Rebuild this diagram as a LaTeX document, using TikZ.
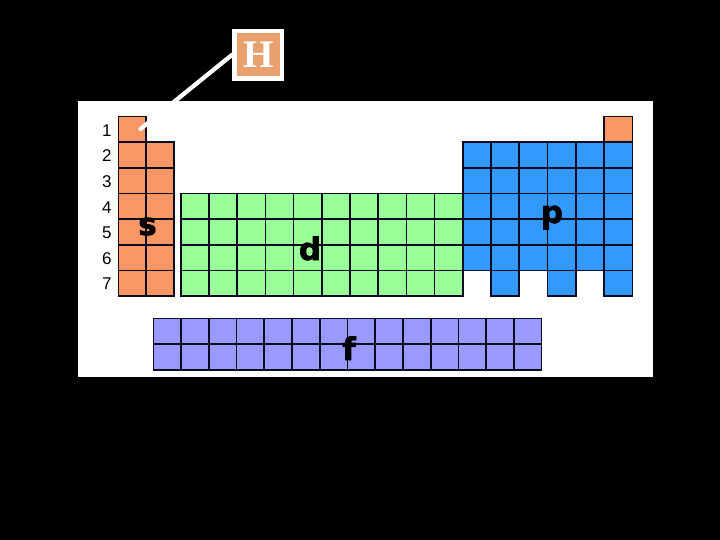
\documentclass[tikz,border=0pt]{standalone}
\usepackage{fontspec}
\setmainfont{Liberation Sans}
\newfontfamily\blockfont{DejaVu Sans}[BoldFeatures={FakeBold=2}]
\newfontfamily\hfont{Liberation Serif}
\definecolor{sorange}{HTML}{FA9865}
\definecolor{horange}{HTML}{E8A06E}
\definecolor{dgreen}{HTML}{99FF99}
\definecolor{pblue}{HTML}{3399FF}
\definecolor{fpurple}{HTML}{9999FF}
\definecolor{gridline}{HTML}{0A0A20}
\tikzset{
  cellbase/.style={draw=gridline, line width=1.6pt},
  scell/.style={cellbase, fill=sorange},
  dcell/.style={cellbase, fill=dgreen},
  pcell/.style={cellbase, fill=pblue},
  fcell/.style={cellbase, fill=fpurple},
  blocklabel/.style={anchor=base, inner sep=0pt, font=\blockfont\bfseries\fontsize{31}{31}\selectfont},
  rownum/.style={anchor=base, inner sep=0pt, font=\fontsize{17}{17}\selectfont},
}
\begin{document}
\begin{tikzpicture}[x=1pt, y=-1pt]
\useasboundingbox (0,0) rectangle (720,540);
\fill[black] (0,0) rectangle (720,540);
\fill[white] (78,101) rectangle (653,377);
% s block
\draw[scell] (118.3,116.7) rectangle ++(27.8,25.6);
\foreach \r in {0,...,5} \foreach \c in {0,1}
  \draw[scell] ({118.3+\c*27.8},{142.3+\r*25.6}) rectangle ++(27.8,25.6);
% d block
\foreach \r in {0,...,3} \foreach \c in {0,...,9}
  \draw[dcell] ({180.7+\c*28.2},{193.5+\r*25.6}) rectangle ++(28.2,25.6);
% p block
\foreach \r in {0,...,4} \foreach \c in {0,...,5}
  \draw[pcell] ({462.7+\c*28.27},{142.3+\r*25.6}) rectangle ++(28.27,25.6);
\foreach \c in {1,3,5}
  \draw[pcell] ({462.7+\c*28.27},270.3) rectangle ++(28.27,25.6);
\draw[scell] ({462.7+5*28.27},116.7) rectangle ++(28.27,25.6);
% f block
\foreach \r in {0,1} \foreach \c in {0,...,13}
  \draw[fcell] ({153.3+\c*27.74},{318.3+\r*25.85}) rectangle ++(27.74,25.85);
% row numbers
\foreach \r in {1,...,7}
  \node[rownum] (row\r) at (106.8,{116.7+(\r-0.5)*25.6+6.8}) {\r};
% block labels
\node[blocklabel] (slab) at (147.5,235) {s};
\node[blocklabel] (dlab) at (310,260) {d};
\node[blocklabel] (plab) at (552,223) {p};
\node[blocklabel] (flab) at (349,360) {f};
% H callout
\node[draw=white, line width=4.5pt, fill=horange, minimum size=47.5pt, inner sep=0pt,
      text=white, font=\hfont\bfseries\fontsize{39}{39}\selectfont] (hbox) at (258.2,54.7) {H};
\coordinate (hcell) at (140.5,129);
\draw[white, line width=4.3pt, line cap=round] (hbox.west) -- (hcell);
\end{tikzpicture}
\end{document}
